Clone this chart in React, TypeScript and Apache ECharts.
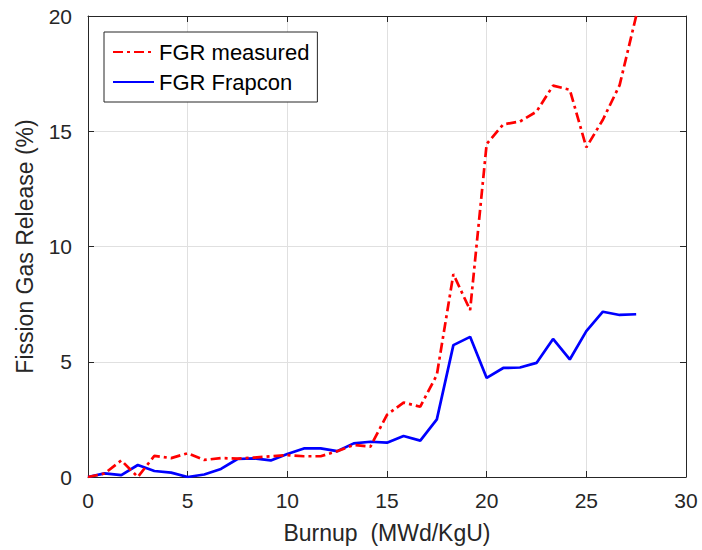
import React, { useEffect, useRef } from "react";
import * as echarts from "echarts";

const burnup = [0, 0.83, 1.67, 2.5, 3.33, 4.17, 5, 5.83, 6.67, 7.5, 8.33, 9.17, 10, 10.83, 11.67, 12.5, 13.33, 14.17, 15, 15.83, 16.67, 17.5, 18.33, 19.17, 20, 20.83, 21.67, 22.5, 23.33, 24.17, 25, 25.83, 26.67, 27.5];
const fgrMeasured = [0, 0.15, 0.72, 0.0, 0.92, 0.82, 1.03, 0.74, 0.82, 0.8, 0.84, 0.9, 0.95, 0.9, 0.9, 1.12, 1.39, 1.32, 2.7, 3.23, 3.05, 4.43, 8.8, 7.24, 14.45, 15.3, 15.42, 15.85, 16.98, 16.8, 14.3, 15.5, 17.0, 20.0];
const fgrFrapcon = [0, 0.16, 0.08, 0.52, 0.26, 0.19, 0.0, 0.11, 0.35, 0.78, 0.81, 0.72, 1.0, 1.24, 1.24, 1.12, 1.46, 1.53, 1.49, 1.78, 1.58, 2.5, 5.72, 6.08, 4.3, 4.73, 4.75, 4.95, 5.99, 5.1, 6.33, 7.17, 7.03, 7.06];
const seriesNames = ["FGR measured", "FGR Frapcon"];
const xTitle = "Burnup  (MWd/KgU)";
const yTitle = "Fission Gas Release (%)";

const FONT = "'Liberation Sans', Arial, Helvetica, sans-serif";
const AX = "#262626";

export default function App() {
  const ref = useRef<HTMLDivElement>(null);
  useEffect(() => {
    if (!ref.current) return;
    const chart = echarts.init(ref.current, undefined, { renderer: "svg" });
    const axisCommon = {
      axisLine: { show: true, onZero: false, lineStyle: { color: AX, width: 1 } },
      axisTick: { show: true, inside: true, length: 6, lineStyle: { color: AX } },
    };
    chart.setOption({
      animation: false,
      backgroundColor: "#ffffff",
      textStyle: { fontFamily: FONT },
      grid: { left: 88, top: 16, width: 598, height: 461, show: false },
      legend: {
        orient: "vertical",
        left: 104,
        top: 32,
        padding: [9, 8, 9, 8],
        itemWidth: 41,
        itemHeight: 14,
        itemGap: 8,
        backgroundColor: "#ffffff",
        borderColor: AX,
        borderWidth: 1,
        borderRadius: 0,
        itemStyle: { opacity: 0 },
        textStyle: { fontFamily: FONT, fontSize: 22, color: "#000" },
        data: seriesNames,
      },
      xAxis: [
        {
          type: "value",
          min: 0,
          max: 30,
          interval: 5,
          position: "bottom",
          name: xTitle,
          nameLocation: "middle",
          nameGap: 44,
          nameTextStyle: { fontFamily: FONT, fontSize: 23, color: AX },
          ...axisCommon,
          axisLabel: { fontFamily: FONT, fontSize: 21, color: AX, margin: 13 },
          splitLine: { show: true, lineStyle: { color: "#e0e0e0", width: 1 } },
        },
        {
          type: "value",
          min: 0,
          max: 30,
          interval: 5,
          position: "top",
          ...axisCommon,
          axisLabel: { show: false },
          splitLine: { show: false },
        },
      ],
      yAxis: [
        {
          type: "value",
          min: 0,
          max: 20,
          interval: 5,
          position: "left",
          name: yTitle,
          nameLocation: "middle",
          nameGap: 52,
          nameTextStyle: { fontFamily: FONT, fontSize: 23, color: AX },
          ...axisCommon,
          axisLabel: { fontFamily: FONT, fontSize: 21, color: AX, margin: 16 },
          splitLine: { show: true, lineStyle: { color: "#e0e0e0", width: 1 } },
        },
        {
          type: "value",
          min: 0,
          max: 20,
          interval: 5,
          position: "right",
          ...axisCommon,
          axisLabel: { show: false },
          splitLine: { show: false },
        },
      ],
      series: [
        {
          name: seriesNames[0],
          type: "line",
          data: burnup.map((x, i) => [x, fgrMeasured[i]]),
          symbol: "none",
          showSymbol: false,
          z: 3,
          lineStyle: { color: "#ff0000", width: 2.7, type: [10, 4, 3, 4] },
          itemStyle: { color: "#ff0000" },
        },
        {
          name: seriesNames[1],
          type: "line",
          data: burnup.map((x, i) => [x, fgrFrapcon[i]]),
          symbol: "none",
          showSymbol: false,
          z: 2,
          lineStyle: { color: "#0000ff", width: 2.7, type: "solid" },
          itemStyle: { color: "#0000ff" },
        },
      ],
    });
    return () => chart.dispose();
  }, []);
  return <div ref={ref} style={{ width: 702, height: 550, position: "absolute", left: 0, top: 0 }} />;
}
